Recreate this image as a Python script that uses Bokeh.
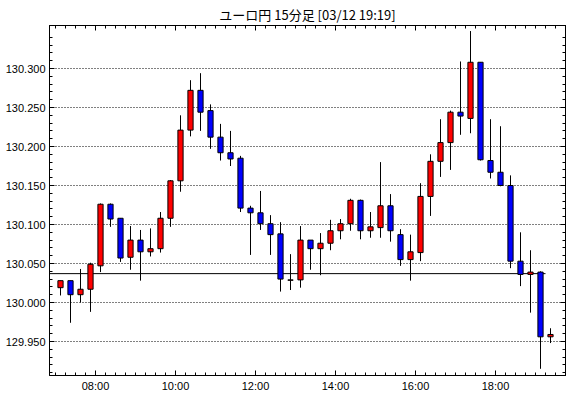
from bokeh.plotting import figure
from bokeh.models import FixedTicker, LinearAxis, Range1d, ColumnDataSource, NumeralTickFormatter
from bokeh.embed import file_html
from bokeh.resources import INLINE

# ---- data (15-minute candles, start times) ----
times = ["07:00", "07:15", "07:30", "07:45", "08:00", "08:15", "08:30", "08:45",
         "09:00", "09:15", "09:30", "09:45", "10:00", "10:15", "10:30", "10:45",
         "11:00", "11:15", "11:30", "11:45", "12:00", "12:15", "12:30", "12:45",
         "13:00", "13:15", "13:30", "13:45", "14:00", "14:15", "14:30", "14:45",
         "15:00", "15:15", "15:30", "15:45", "16:00", "16:15", "16:30", "16:45",
         "17:00", "17:15", "17:30", "17:45", "18:00", "18:15", "18:30", "18:45",
         "19:00", "19:15"]
opens = [130.019, 130.028, 130.010, 130.017, 130.047, 130.126, 130.108, 130.058,
         130.080, 130.065, 130.069, 130.108, 130.156, 130.221, 130.272, 130.246,
         130.212, 130.192, 130.185, 130.121, 130.115, 130.101, 130.088, 130.0285,
         130.029, 130.080, 130.069, 130.076, 130.092, 130.101, 130.131, 130.092,
         130.096, 130.124, 130.087, 130.055, 130.064, 130.136, 130.181, 130.205,
         130.244, 130.236, 130.308, 130.182, 130.167, 130.150, 130.053, 130.036,
         130.039, 129.956]
highs = [130.028, 130.028, 130.043, 130.051, 130.127, 130.127, 130.108, 130.098,
         130.093, 130.095, 130.116, 130.157, 130.240, 130.285, 130.294, 130.254,
         130.229, 130.220, 130.188, 130.124, 130.143, 130.112, 130.103, 130.062,
         130.098, 130.080, 130.089, 130.106, 130.107, 130.133, 130.132, 130.116,
         130.180, 130.139, 130.094, 130.087, 130.153, 130.190, 130.235, 130.246,
         130.309, 130.348, 130.308, 130.235, 130.226, 130.163, 130.090, 130.067,
         130.040, 129.967]
lows = [130.009, 129.974, 130.000, 129.988, 130.039, 130.097, 130.052, 130.042,
        130.028, 130.059, 130.064, 130.097, 130.142, 130.213, 130.220, 130.197,
        130.182, 130.175, 130.116, 130.061, 130.093, 130.061, 130.014, 130.016,
        130.019, 130.042, 130.035, 130.067, 130.081, 130.092, 130.081, 130.083,
        130.083, 130.078, 130.047, 130.028, 130.053, 130.111, 130.161, 130.170,
        130.215, 130.217, 130.182, 130.159, 130.149, 130.044, 130.021, 129.987,
        129.915, 129.948]
closes = [130.028, 130.010, 130.017, 130.049, 130.126, 130.107, 130.057, 130.080,
          130.065, 130.069, 130.108, 130.156, 130.221, 130.272, 130.244, 130.212,
          130.192, 130.184, 130.121, 130.115, 130.101, 130.087, 130.030, 130.029,
          130.080, 130.069, 130.076, 130.092, 130.101, 130.131, 130.092, 130.097,
          130.124, 130.092, 130.055, 130.065, 130.136, 130.181, 130.205, 130.244,
          130.239, 130.308, 130.183, 130.167, 130.150, 130.053, 130.036, 130.039,
          129.956, 129.959]
reference_price = 130.037
title_text = "ユーロ円 15分足 [03/12 19:19]"
x_tick_labels = ["08:00", "10:00", "12:00", "14:00", "16:00", "18:00"]
y_tick_values = [129.95, 130.00, 130.05, 130.10, 130.15, 130.20, 130.25, 130.30]

# ---- derived ----
interval_h = 15 / 60.0
def to_hours(s):
    h, m = s.split(":")
    return int(h) + int(m) / 60.0

starts = [to_hours(t) for t in times]
xs = [s + interval_h / 2 for s in starts]
tops = [max(o, c) for o, c in zip(opens, closes)]
bottoms = [min(o, c) for o, c in zip(opens, closes)]
colors = ["#ff0000" if c >= o else "#0000ff" for o, c in zip(opens, closes)]

src = ColumnDataSource(dict(x=xs, high=highs, low=lows, top=tops, bottom=bottoms, color=colors))

FRAME_W, FRAME_H = 516, 350
x_start = 6.85
y_top = 130.3 + 43.0 / 780
x_range = Range1d(x_start, x_start + FRAME_W / 40)
y_range = Range1d(y_top - FRAME_H / 780, y_top)

p = figure(width=570, height=398, x_range=x_range, y_range=y_range,
           output_backend="svg", toolbar_location=None,
           min_border_left=49, min_border_right=5, min_border_top=25, min_border_bottom=23,
           title=title_text)
p.background_fill_color = "white"
p.border_fill_color = "white"
p.outline_line_color = "black"
p.outline_line_width = 1

p.title.align = "center"
p.title.text_font = "Noto Sans CJK JP"
p.title.text_font_size = "13px"
p.title.text_font_style = "normal"
p.title.text_color = "black"
p.title.standoff = 3
p.title.offset = 0

x_major = [to_hours(t) for t in x_tick_labels]
x_minor = [h + q * interval_h for h in range(7, 20) for q in range(4)]
x_minor = [v for v in x_minor if x_range.start < v < x_range.end]
xticker = FixedTicker(ticks=x_major, minor_ticks=x_minor)
y_minor = [round(129.90 + k * 0.01, 2) for k in range(1, 45)]
y_minor = [v for v in y_minor if y_range.start < v < 130.345]
yticker = FixedTicker(ticks=y_tick_values, minor_ticks=y_minor)

def style_axis(ax, ticker):
    ax.ticker = ticker
    ax.axis_line_color = "black"
    ax.major_tick_line_color = "black"
    ax.minor_tick_line_color = "black"
    ax.major_tick_in = 5
    ax.major_tick_out = 0
    ax.minor_tick_in = 3
    ax.minor_tick_out = 0
    ax.major_label_text_font = "Liberation Sans"
    ax.major_label_text_font_size = "11px"
    ax.major_label_text_color = "black"
    ax.major_label_standoff = 4

style_axis(p.xaxis[0], xticker)
p.xaxis[0].major_label_overrides = {v: s for v, s in zip(x_major, x_tick_labels)}
style_axis(p.yaxis[0], yticker)
p.yaxis[0].formatter = NumeralTickFormatter(format="0.000")

def tick_only_axis(minor_positions, length):
    ax = LinearAxis(ticker=FixedTicker(ticks=[], minor_ticks=minor_positions))
    ax.axis_line_color = "black"
    ax.minor_tick_line_color = "black"
    ax.minor_tick_in = length
    ax.minor_tick_out = 0
    ax.major_tick_in = 0
    ax.major_tick_out = 0
    ax.major_label_standoff = 0
    return ax

p.add_layout(tick_only_axis(x_minor, 3), "above")
p.add_layout(tick_only_axis(x_major, 5), "above")
p.add_layout(tick_only_axis(y_minor, 3), "right")
p.add_layout(tick_only_axis(y_tick_values, 5), "right")

p.xgrid.visible = False
p.ygrid.ticker = yticker
p.ygrid.grid_line_color = "black"
p.ygrid.grid_line_dash = "1 2"
p.ygrid.grid_line_dash_offset = 0
p.ygrid.grid_line_width = 1

# reference line
p.segment(x0=[x_range.start], y0=[reference_price], x1=[starts[-1]], y1=[reference_price],
          line_color="black", line_width=1)

# candles
p.segment(x0="x", y0="high", x1="x", y1="low", source=src, line_color="black", line_width=1)
p.vbar(x="x", width=0.13, top="top", bottom="bottom", source=src,
       fill_color="color", line_color="black", line_width=1)

open("out.html", "w").write(file_html(p, INLINE))
